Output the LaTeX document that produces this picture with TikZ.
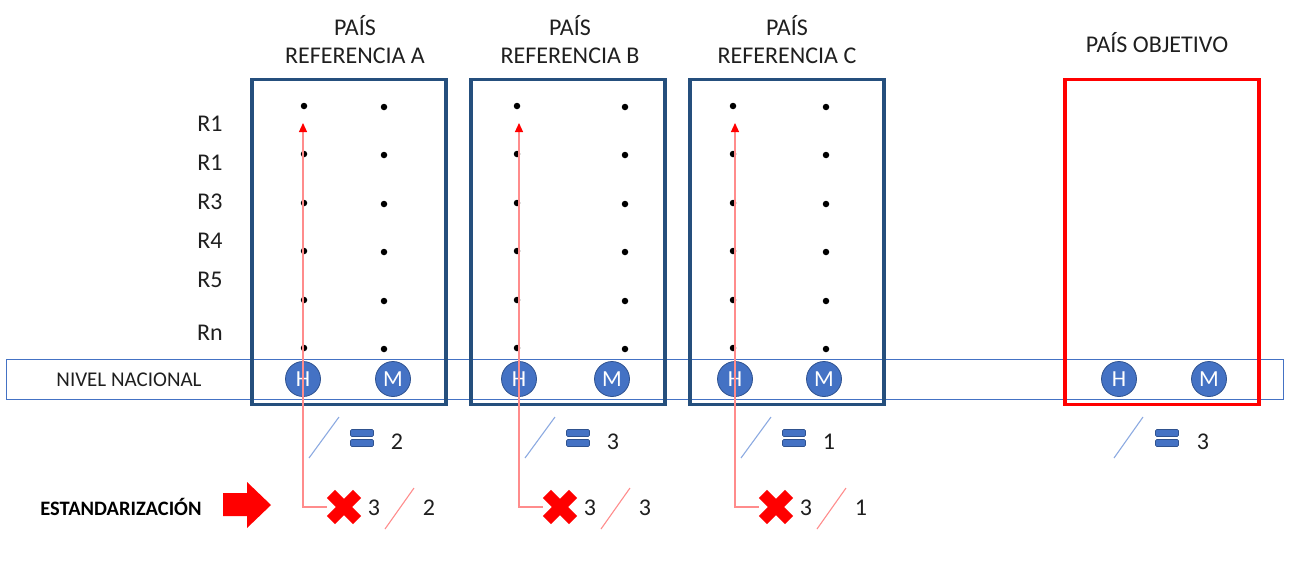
\documentclass[tikz,border=0pt]{standalone}
\usepackage{fontspec}
\setmainfont{Carlito}
\usetikzlibrary{arrows.meta}
\definecolor{boxblue}{RGB}{37,79,125}
\definecolor{accblue}{RGB}{68,114,196}
\definecolor{accdark}{RGB}{47,82,143}
\definecolor{slashblue}{RGB}{140,170,225}
\definecolor{lightred}{RGB}{255,140,140}
\begin{document}
\begin{tikzpicture}[x=1pt,y=-1pt,
  refbox/.style={draw=boxblue,line width=3.5pt,rectangle,inner sep=0pt,minimum width=194pt,minimum height=325pt},
  objbox/.style={draw=red,line width=3.5pt,rectangle,inner sep=0pt,minimum width=194pt,minimum height=325pt},
  band/.style={draw=accblue,line width=0.9pt,rectangle,inner sep=0pt},
  person/.style={circle,fill=accblue,draw=accdark,line width=0.8pt,minimum size=35pt,inner sep=0pt,text=white,font=\fontsize{23}{23}\selectfont},
  dotm/.style={circle,fill=black,minimum size=6.5pt,inner sep=0pt},
  head/.style={align=center,font=\fontsize{24}{28}\selectfont,text=black!88},
  lab/.style={font=\fontsize{24}{24}\selectfont,text=black!88},
  small/.style={font=\fontsize{21}{21}\selectfont,text=black!88},
  eqbar/.style={rectangle,rounded corners=1.2pt,fill=accblue,draw=accdark,line width=0.6pt,minimum width=23pt,minimum height=7pt,inner sep=0pt},
  xspot/.style={circle,minimum size=34pt,inner sep=0pt},
  blueslash/.style={draw=slashblue,line width=1.1pt},
  redslash/.style={draw=lightred,line width=1.1pt},
  redconn/.style={draw=lightred,line width=1.2pt,-{Triangle[length=9pt,width=8pt,color=red]}}
]
\useasboundingbox (0,0) rectangle (1304,568);

% national level band
\node[band,minimum width=1277pt,minimum height=40pt] (band) at (644.5,379) {};
\node[small] (nivel) at (129,380) {NIVEL NACIONAL};

% row labels
\foreach \t/\y [count=\i] in {R1/124,R1/163,R3/202,R4/241,R5/280,Rn/333}
  \node[lab] (row\i) at (210,\y) {\t};

% reference countries
\foreach \l/\bx/\hx/\mx/\dl/\dr/\tx/\eqn/\xn in
  {A/349/303/393/304/384/355/2/2, B/568/519/612/517/625/570/3/3, C/787/735/824/733/826/787/1/1}{
  \node[refbox] (box\l) at (\bx,242) {};
  \node[head] (head\l) at (\tx,40) {PAÍS\\REFERENCIA \l};
  \foreach \y [count=\k] in {106,154,203,251,300,348}{
    \node[dotm] (dl\l\k) at (\dl,\y) {};
    \node[dotm] (dr\l\k) at (\dr,\y+1) {};
  }
  \node[person] (H\l) at (\hx,379) {H};
  \node[person] (M\l) at (\mx,379) {M};
  \draw[blueslash] (\hx+6,458) -- (\hx+36,417);
  \node[eqbar] (eqt\l) at (\hx+59,433) {};
  \node[eqbar] (eqb\l) at (\hx+59,443) {};
  \node[lab] (eqn\l) at (\hx+94,442) {\eqn};
  \node[xspot] (X\l) at (\hx+41,507) {};
  \fill[red,shift={(X\l.center)},rotate=45] (-18.5,-5.8) rectangle (18.5,5.8);
  \fill[red,shift={(X\l.center)},rotate=-45] (-18.5,-5.8) rectangle (18.5,5.8);
  \node[lab] (xa\l) at (\hx+71,508) {3};
  \draw[redslash] (\hx+82,529) -- (\hx+111,488);
  \node[lab] (xb\l) at (\hx+126,508) {\xn};
  \coordinate (tip\l) at (\hx,123);
  \draw[redconn] (X\l.west) -| (tip\l);
}

% target country
\node[objbox] (boxO) at (1162,242) {};
\node[head] (headO) at (1157,43) {PAÍS OBJETIVO};
\node[person] (HO) at (1119,379) {H};
\node[person] (MO) at (1209,379) {M};
\draw[blueslash] (1114,458) -- (1143,417);
\node[eqbar] (eqtO) at (1167,433) {};
\node[eqbar] (eqbO) at (1167,443) {};
\node[lab] (eqnO) at (1203,442) {3};

% standardisation
\node[font=\fontsize{20.5}{21}\selectfont\bfseries] (estd) at (121,507) {ESTANDARIZACIÓN};
\fill[red] (223,493) -- (247,493) -- (247,482) -- (271,505) -- (247,528) -- (247,516) -- (223,516) -- cycle;
\end{tikzpicture}
\end{document}
